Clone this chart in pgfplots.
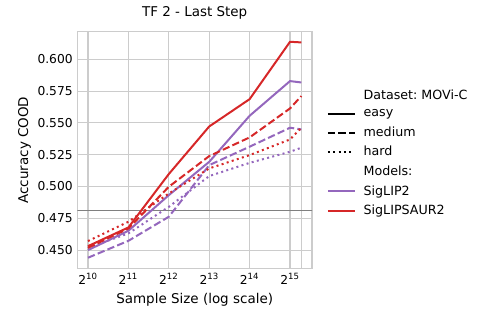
\documentclass[border=0pt]{standalone}
\usepackage{fontspec}
\setmainfont{DejaVu Sans}
\usepackage{pgfplots}
\pgfplotsset{compat=1.18}
\frenchspacing

\definecolor{tabred}{HTML}{D62728}
\definecolor{tabpurple}{HTML}{9467BD}
\definecolor{gridc}{HTML}{CCCCCC}

% x = log2(sample size)
\pgfplotstableread{
x      pe      pm      ph      re      rm      rh
10     0.4500  0.4440  0.4518  0.4531  0.4518  0.4571
11     0.4652  0.4573  0.4631  0.4678  0.4670  0.4723
12     0.4932  0.4762  0.4840  0.5098  0.4998  0.4945
13     0.5194  0.5168  0.5082  0.5472  0.5239  0.5142
14     0.5556  0.5313  0.5186  0.5687  0.5386  0.5247
15     0.5829  0.5462  0.5273  0.6138  0.5614  0.5370
15.28  0.5818  0.5449  0.5305  0.6133  0.5711  0.5462
}\accdata

\begin{document}
\begin{tikzpicture}
\begin{axis}[
  scale only axis,
  width=176pt,
  height=177.5pt,
  xmin=9.736, xmax=15.544,
  ymin=0.4356, ymax=0.6217,
  xtick={10,11,12,13,14,15},
  xticklabels={2\textsuperscript{10},2\textsuperscript{11},2\textsuperscript{12},2\textsuperscript{13},2\textsuperscript{14},2\textsuperscript{15}},
  extra x ticks={15.28},
  extra x tick labels={},
  extra tick style={grid=major,major grid style={gridc,line width=0.8pt}},
  ytick={0.450,0.475,0.500,0.525,0.550,0.575,0.600},
  yticklabel style={/pgf/number format/.cd,fixed,fixed zerofill,precision=3,assume math mode=true},
  tick label style={font=\fontsize{9.2}{11}\selectfont},
  major tick length=0pt,
  grid=major,
  major grid style={gridc,line width=0.8pt},
  axis line style={gridc,line width=0.8pt},
  xlabel={Sample Size (log scale)},
  ylabel={Accuracy COOD},
  ylabel style={yshift=-2pt},
  label style={font=\fontsize{10.1}{12}\selectfont},
  title={TF 2 - Last Step},
  title style={font=\fontsize{10.1}{12}\selectfont},
  legend style={draw=none,fill=none,at={(1,1)},anchor=north west,xshift=9pt,yshift=-39.5pt,
    font=\fontsize{9.5}{11}\selectfont,row sep=2pt,inner sep=2pt,
    /tikz/every odd column/.append style={column sep=4pt}},
  legend cell align=left,
  legend image code/.code={\draw[#1] (0pt,0pt) -- (20pt,0pt);},
  every axis plot/.append style={line width=1.5pt},
]
\addplot[gray,line width=1pt,forget plot] coordinates {(9,0.481) (16,0.481)};

\addplot[tabpurple,dash pattern=on 1.5pt off 2.5pt,forget plot] table[x=x,y=ph]{\accdata};
\addplot[tabpurple,dash pattern=on 5.5pt off 2.4pt,forget plot] table[x=x,y=pm]{\accdata};
\addplot[tabpurple,forget plot] table[x=x,y=pe]{\accdata};
\addplot[tabred,dash pattern=on 1.5pt off 2.5pt,forget plot] table[x=x,y=rh]{\accdata};
\addplot[tabred,dash pattern=on 5.5pt off 2.4pt,forget plot] table[x=x,y=rm]{\accdata};
\addplot[tabred,forget plot] table[x=x,y=re]{\accdata};

\addlegendimage{empty legend}
\addlegendentry{Dataset: MOVi-C}
\addlegendimage{black,line width=1.5pt}
\addlegendentry{easy}
\addlegendimage{black,line width=1.5pt,dash pattern=on 5.5pt off 2.4pt}
\addlegendentry{medium}
\addlegendimage{black,line width=1.5pt,dash pattern=on 1.5pt off 2.5pt}
\addlegendentry{hard}
\addlegendimage{empty legend}
\addlegendentry{Models:}
\addlegendimage{tabpurple,line width=1.5pt}
\addlegendentry{SigLIP2}
\addlegendimage{tabred,line width=1.5pt}
\addlegendentry{SigLIPSAUR2}
\end{axis}
\pgfresetboundingbox
\path[use as bounding box] ([xshift=-58pt,yshift=-43.3pt]current axis.south west) rectangle ([xshift=132pt,yshift=23.8pt]current axis.north east);
\end{tikzpicture}
\end{document}
